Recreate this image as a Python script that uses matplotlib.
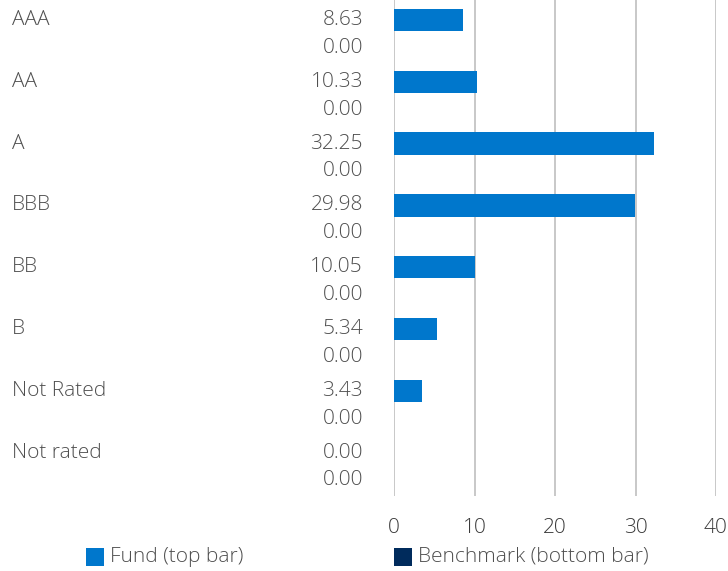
import matplotlib
matplotlib.use("Agg")
import matplotlib.pyplot as plt
from matplotlib.patches import Rectangle
from matplotlib.transforms import blended_transform_factory

categories = ["AAA", "AA", "A", "BBB", "BB", "B", "Not Rated", "Not rated"]
fund = [8.63, 10.33, 32.25, 29.98, 10.05, 5.34, 3.43, 0.00]
benchmark = [0.00, 0.00, 0.00, 0.00, 0.00, 0.00, 0.00, 0.00]
xticks = [0, 10, 20, 30, 40]

FUND_C = "#0077CC"
BENCH_C = "#002B5C"
TXT_C = "#4f4f4f"
GRID_C = "#c4c4c4"
FS = 15
FW = 'light'

plt.rcParams['font.family'] = ['Open Sans', 'DejaVu Sans']

W, H = 728, 571
fig = plt.figure(figsize=(W / 100, H / 100), dpi=100)
ax_left, ax_right = 394 / W, 716 / W
ax_top_px, ax_bot_px = 0, 496
ax = fig.add_axes([ax_left, 1 - ax_bot_px / H, ax_right - ax_left, (ax_bot_px - ax_top_px) / H])

pitch = 61.8
off0 = 20 / pitch
bench_off = 0.45
bh = 0.36
n = len(categories)
fund_y = [i for i in range(n)]
bench_y = [i + bench_off for i in range(n)]

ax.barh(fund_y, fund, height=bh, color=FUND_C, zorder=3)
ax.barh(bench_y, benchmark, height=bh, color=BENCH_C, zorder=3)

ax.set_xlim(0, 40)
ax.set_ylim((ax_bot_px - 20) / pitch, -off0)
ax.set_xticks(xticks)
ax.set_xticklabels([str(t) for t in xticks], fontweight=FW)
ax.set_yticks([])
ax.tick_params(axis='x', length=0, pad=15.5, labelsize=FS, labelcolor="#3a3a3a")
for t in xticks:
    ax.axvline(t, color=GRID_C, lw=1.3, zorder=1)
for s in ax.spines.values():
    s.set_visible(False)

bt = blended_transform_factory(fig.transFigure, ax.transData)
for i, cat in enumerate(categories):
    ax.text(12 / W, fund_y[i], cat, transform=bt, ha='left', va='center',
            fontsize=FS, fontweight=FW, color=TXT_C)
    ax.text(363 / W, fund_y[i], f"{fund[i]:.2f}", transform=bt, ha='right', va='center',
            fontsize=FS, fontweight=FW, color=TXT_C)
    ax.text(363 / W, bench_y[i], f"{benchmark[i]:.2f}", transform=bt, ha='right', va='center',
            fontsize=FS, fontweight=FW, color=TXT_C)

# legend
ly = 1 - 557 / H
sq = 18
for x0, col, label in [(86, FUND_C, "Fund (top bar)"), (394, BENCH_C, "Benchmark (bottom bar)")]:
    fig.patches.append(Rectangle((x0 / W, ly - sq / 2 / H), sq / W, sq / H, transform=fig.transFigure,
                                 facecolor=col, edgecolor='none'))
    fig.text((x0 + sq + 6) / W, ly, label, ha='left', va='center', fontsize=FS,
             fontweight=FW, color=TXT_C)

fig.savefig("out.png", dpi=100)
